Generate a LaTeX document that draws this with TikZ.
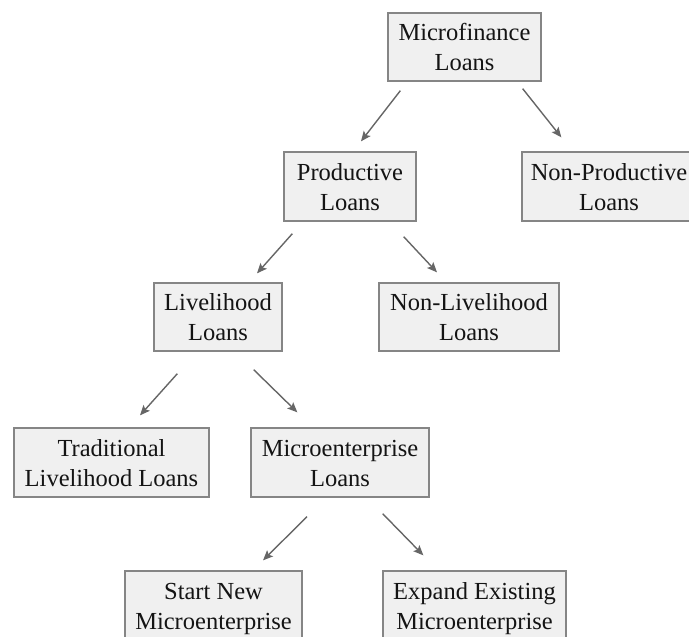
\documentclass[tikz,border=0pt]{standalone}
\usepackage{fontspec}
\setmainfont{Liberation Serif}
\usetikzlibrary{arrows.meta,calc}
\definecolor{boxfill}{HTML}{F0F0F0}
\definecolor{boxline}{HTML}{858585}
\definecolor{arrowc}{HTML}{666666}
\definecolor{txtc}{HTML}{141414}
\newcommand{\lnstrut}{\rule[-6pt]{0pt}{29pt}}
\begin{document}
\begin{tikzpicture}[x=1pt,y=-1pt,
  loanbox/.style={draw=boxline, line width=1.3pt, fill=boxfill, align=center,
    inner sep=0pt, text=txtc, font=\fontsize{24.5}{30}\selectfont},
  conn/.style={draw=arrowc, line width=1.4pt,
    -{Stealth[length=10pt,width=8.5pt,inset=2pt]}}]
\useasboundingbox (0,0) rectangle (689,637);
\clip (0,0) rectangle (689,637);

\node[loanbox, minimum width=153pt, minimum height=68pt] (mf) at (464.5,47)
  {\lnstrut Microfinance\\\lnstrut Loans};
\node[loanbox, minimum width=174pt, minimum height=69pt] (np) at (609,186.5)
  {\lnstrut Non-Productive\\\lnstrut Loans};
\node[loanbox, minimum width=132pt, minimum height=69pt] (pr) at (350,186.5)
  {\lnstrut Productive\\\lnstrut Loans};
\node[loanbox, minimum width=128pt, minimum height=68pt] (lv) at (218,317)
  {\lnstrut Livelihood\\\lnstrut Loans};
\node[loanbox, minimum width=180pt, minimum height=68pt] (nl) at (469,317)
  {\lnstrut Non-Livelihood\\\lnstrut Loans};
\node[loanbox, minimum width=195pt, minimum height=69pt] (tr) at (111.5,462.5)
  {\lnstrut Traditional\\\lnstrut Livelihood Loans};
\node[loanbox, minimum width=178pt, minimum height=69pt] (me) at (340,462.5)
  {\lnstrut Microenterprise\\\lnstrut Loans};
\node[loanbox, minimum width=177pt, minimum height=69pt] (sn) at (213.5,605.5)
  {\lnstrut Start New\\\lnstrut Microenterprise};
\node[loanbox, minimum width=183pt, minimum height=69pt] (ex) at (474.5,605.5)
  {\lnstrut Expand Existing\\\lnstrut Microenterprise};

\draw[conn] ($(mf.south west)+(13,9)$) -- ($(pr.north)+(11,-10)$);
\draw[conn] ($(mf.south east)+(-19,7)$) -- ($(np.north west)+(40,-14)$);
\draw[conn] ($(pr.south west)+(9,12)$) -- ($(lv.north)+(39,-9)$);
\draw[conn] ($(pr.south east)+(-13,15)$) -- ($(nl.north)+(-32,-10)$);
\draw[conn] ($(lv.south west)+(24,22)$) -- ($(tr.north)+(28.5,-12)$);
\draw[conn] ($(lv.south east)+(-29,18)$) -- ($(me.north west)+(47,-15)$);
\draw[conn] ($(me.south)+(-33,19)$) -- ($(sn.north)+(49.5,-10)$);
\draw[conn] ($(me.south east)+(-47,16)$) -- ($(ex.north west)+(41,-15)$);
\end{tikzpicture}
\end{document}
